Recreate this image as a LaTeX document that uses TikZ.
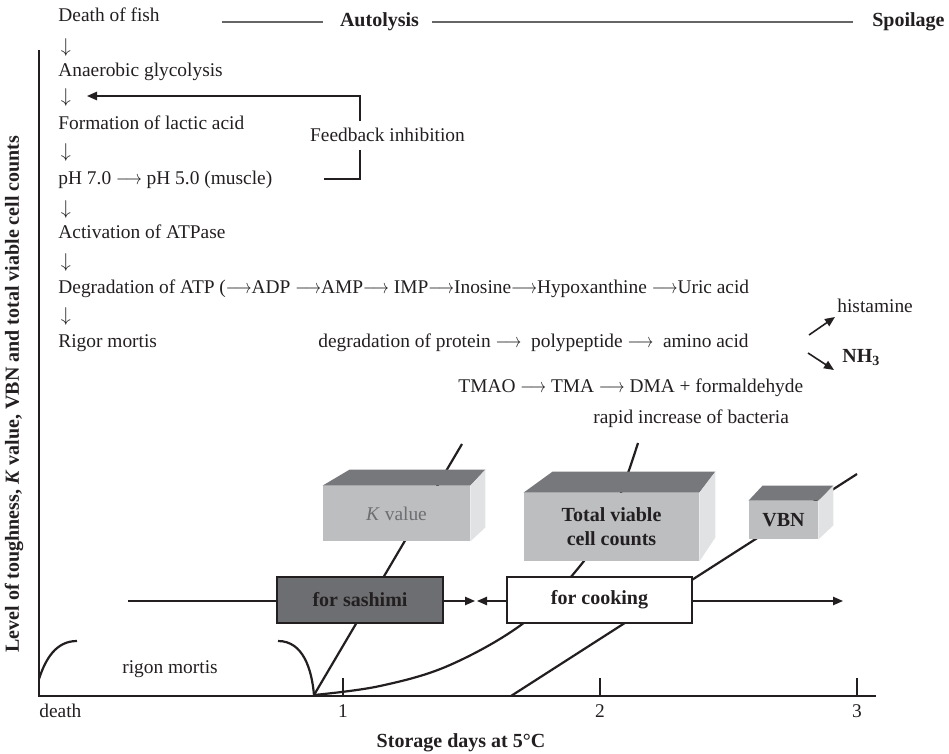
\documentclass[tikz,border=0pt]{standalone}
\usepackage{fontspec}
\usepackage{graphicx}
\setmainfont{Liberation Serif}
\usetikzlibrary{arrows.meta}

\definecolor{ink}{HTML}{231F20}
\definecolor{boxtop}{HTML}{77787B}
\definecolor{boxfront}{HTML}{BCBEC0}
\definecolor{boxside}{HTML}{E1E2E3}
\definecolor{darkuse}{HTML}{6D6E71}

% shorter reaction arrow
\newcommand{\goesto}{\scalebox{0.8}[1]{$\longrightarrow$}}

\tikzset{
    txt/.style={anchor=base west, inner sep=0pt},
    stage/.style={font=\bfseries, anchor=base, inner sep=0pt},
    curve/.style={line width=1.1pt},
    tip/.style={-{Triangle[length=5pt,width=4.2pt]}},
    front/.style={fill=boxfront, inner sep=0pt},
    topface/.style={fill=boxtop},
    sideface/.style={fill=boxside},
    usebox/.style={draw=ink, line width=0.6pt, font=\bfseries, text=ink, inner sep=0pt, minimum height=23pt},
}

\begin{document}
\begin{tikzpicture}[x=0.5pt, y=-0.5pt, font=\fontsize{9.7}{11.6}\selectfont, color=ink]

    \useasboundingbox (0,0) rectangle (949,754);

    % stages along the top
    \node [stage] (auto) at (379.5,27) {Autolysis};
    \node [stage, anchor=base east] (spoil) at (945,27) {Spoilage};
    \coordinate (autostart) at (222,22);
    \draw [gray!80!black, line width=0.6pt]
        (autostart) -- ([xshift=-8.5pt]auto.west |- autostart)
        ([xshift=6.5pt]auto.east |- autostart) -- ([xshift=-9.5pt]spoil.west |- autostart)
        ;

    % chain of events after death
    \node [txt] (death)  at (58,22)  {Death of fish};
    \node       (dn1)    at (66,48)  {$\downarrow$};
    \node [txt] (anaer)  at (58,77)  {Anaerobic glycolysis};
    \node       (dn2)    at (66,98)  {$\downarrow$};
    \node [txt] (lactic) at (58,130) {Formation of lactic acid};
    \node       (dn3)    at (66,153) {$\downarrow$};
    \node [txt] (ph)     at (58,185) {pH 7.0 \goesto\ pH 5.0 (muscle)};
    \node       (dn4)    at (66,210) {$\downarrow$};
    \node [txt] (atpase) at (58,239) {Activation of ATPase};
    \node       (dn5)    at (66,263) {$\downarrow$};
    \node [txt] (atp)    at (58,294) {Degradation of ATP (\goesto ADP \goesto AMP\goesto\ IMP\goesto Inosine\goesto Hypoxanthine \goesto Uric acid};
    \node       (dn6)    at (66,317) {$\downarrow$};
    \node [txt] (rigor)  at (58,348) {Rigor mortis};

    % feedback loop
    \node [anchor=base, inner xsep=0pt, inner ysep=3.5pt] (fb) at (387.5,142) {Feedback inhibition};
    \coordinate (fbx) at (360,0);
    \coordinate (fbin) at (324,179);
    \coordinate (fbtip) at (87,96);
    \draw [line width=0.7pt] (fbin) -| (fb.south -| fbx);
    \draw [line width=0.7pt, tip] (fb.north -| fbx) |- (fbtip);

    % spoilage reactions
    \node [txt] (protein) at (318,348) {degradation of protein \goesto\ \ polypeptide \goesto\ \ amino acid};
    \node [txt] (tmao)    at (458,393) {TMAO \goesto\ TMA \goesto\ DMA + formaldehyde};
    \node [txt] (rapid)   at (593,424) {rapid increase of bacteria};
    \node [txt] (hist)    at (837,313) {histamine};
    \node [txt, font=\bfseries] (nh3) at (842,363) {NH\textsubscript{3}};
    \coordinate (hisfrom) at (809,335);
    \coordinate (histo)   at (835,317);
    \coordinate (nhfrom)  at (808,353);
    \coordinate (nhto)    at (834,370);
    \draw [line width=0.8pt, tip] (hisfrom) -- (histo);
    \draw [line width=0.8pt, tip] (nhfrom) -- (nhto);

    % axes
    \coordinate (ytop) at (39,50);
    \coordinate (orig) at (39,696);
    \coordinate (xend) at (876,696);
    \draw [line width=0.8pt] (ytop) -- (orig) -- (xend);
    \foreach \x/\d in {343/1, 600/2, 857/3} {
        \coordinate (tick\d) at (\x,696);
        \draw [line width=0.6pt] (tick\d) -- ++(0,-18);
        \node [anchor=base] (day\d) at (\x,717) {\d};
    }
    \node [txt] (deathx) at (39,717) {death};
    \node [stage] (xlab) at (461,747) {Storage days at 5°C};
    \node [rotate=90, font=\bfseries] (ylab) at (14,394)
        {Level of toughness, \textit{K} value, VBN and total viable cell counts};

    % rigor mortis
    \draw [curve]
        (39,679) to[out=72,in=180] (77,641)
        (278,641) to[out=0,in=95] (314,695)
        ;
    \node [anchor=base] (rig) at (170,673) {rigon mortis};

    % curves
    \coordinate (kstart) at (314,695);
    \coordinate (kend) at (462,444);
    \draw [curve] (kstart) -- (kend);
    \draw [curve] plot [smooth, tension=0.6] coordinates
        {(314,695) (380,686) (450,665) (525,622) (580,566) (612,515) (638,443)};
    \coordinate (vstart) at (511,696);
    \coordinate (vend) at (857,474);
    \draw [curve] (vstart) -- (vend);

    % K value box
    \node [front, minimum width=73.5pt, minimum height=27.5pt, text=darkuse] (kval) at (396.5,513.5) {\textit{K} value};
    \fill [topface] (kval.north west) -- ([shift={(27,-16)}]kval.north west)
        -- ([shift={(15,-16)}]kval.north east) -- (kval.north east) -- cycle;
    \fill [sideface] (kval.north east) -- ([shift={(15,-16)}]kval.north east)
        -- ([shift={(15,-14)}]kval.south east) -- (kval.south east) -- cycle;

    % total viable cell counts box
    \node [front, minimum width=87.5pt, minimum height=34pt, font=\bfseries, align=center] (tvc) at (611.5,527) {Total viable\\cell counts};
    \fill [topface] (tvc.north west) -- ([shift={(29,-21)}]tvc.north west)
        -- ([shift={(16,-21)}]tvc.north east) -- (tvc.north east) -- cycle;
    \fill [sideface] (tvc.north east) -- ([shift={(16,-21)}]tvc.north east)
        -- ([shift={(16,-24)}]tvc.south east) -- (tvc.south east) -- cycle;

    % VBN box
    \node [front, minimum width=34.5pt, minimum height=19pt, font=\bfseries] (vbn) at (783.5,520) {VBN};
    \fill [topface] (vbn.north west) -- ([shift={(14,-15)}]vbn.north west)
        -- ([shift={(15,-15)}]vbn.north east) -- (vbn.north east) -- cycle;
    \fill [sideface] (vbn.north east) -- ([shift={(15,-15)}]vbn.north east)
        -- ([shift={(15,-14)}]vbn.south east) -- (vbn.south east) -- cycle;

    % use of the fish
    \node [usebox, fill=darkuse, minimum width=83pt] (sashimi) at (360,600) {for sashimi};
    \node [usebox, fill=white, minimum width=92.5pt] (cooking) at (599.5,600) {for cooking};
    \coordinate (usestart) at (128,601);
    \coordinate (sashend) at (475,601);
    \coordinate (cookstart) at (477,601);
    \coordinate (cookend) at (843,601);
    \draw [line width=0.6pt] (usestart) -- (sashimi.west |- usestart);
    \draw [line width=0.6pt, tip] (sashimi.east |- sashend) -- (sashend);
    \draw [line width=0.6pt, tip] (cooking.west |- cookstart) -- (cookstart);
    \draw [line width=0.6pt, tip] (cooking.east |- cookend) -- (cookend);

\end{tikzpicture}
\end{document}
